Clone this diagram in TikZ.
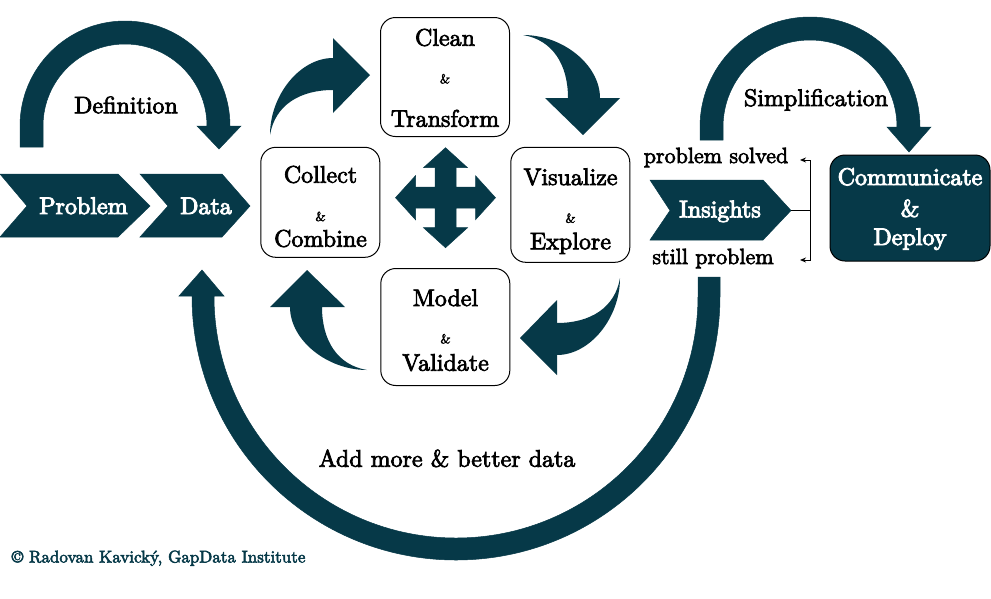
\documentclass[tikz,border=0pt]{standalone}
\usepackage{fontspec}
\setmainfont{lmroman10-regular.otf}[FakeBold=3]
\newfontfamily\whitefont{lmroman10-regular.otf}[FakeBold=4]
\usetikzlibrary{arrows.meta}
\definecolor{dteal}{RGB}{6,57,72}
\tikzset{
  curvarrow/.pic={
    \fill[dteal] (-100,60) .. controls (-100,20) and (-70,-17) .. (-37,-17)
      -- (-37,-37) -- (0,0) -- (-37,38) -- (-37,15)
      .. controls (-70,15) and (-95,30) .. (-100,60) -- cycle;
  }
}
\begin{document}
\begin{tikzpicture}[x=1pt,y=-1pt,
  every node/.style={inner sep=0pt, outer sep=0pt},
  lbl/.style={anchor=base, font=\fontsize{24}{28}\selectfont},
  sml/.style={anchor=base, font=\fontsize{22}{26}\selectfont},
  amp/.style={anchor=base, font=\fontsize{13}{15}\selectfont},
  wlbl/.style={anchor=base, text=white, font=\whitefont\fontsize{24}{28}\selectfont},
  box/.style={draw=black, line width=1pt, rounded corners=15pt, fill=white},
  dbox/.style={draw=black, line width=1pt, rounded corners=15pt, fill=dteal},
  blk/.style={fill=dteal, draw=dteal, line width=0.5pt},
  conn/.style={line width=1pt, {Stealth[length=6pt,width=5pt]}-{Stealth[length=6pt,width=5pt]}}]
\useasboundingbox (0,0) rectangle (991,598);

% Definition arc
\path[blk] (20,147) -- (20,126) arc[start angle=180,end angle=360,radius=105]
  -- (241,126) -- (219,149) -- (197,126) -- (207,126)
  arc[start angle=360,end angle=180,radius=82] -- (43,147) -- cycle;
\node[lbl] (definition) at (126,113.3) {Definition};

% Simplification arc
\path[blk] (700,140) -- (700,127) arc[start angle=180,end angle=360,radius=110]
  -- (931,127) -- (909,152) -- (887,127) -- (897,127)
  arc[start angle=360,end angle=180,radius=87] -- (723,140) -- cycle;
\node[lbl] (simplification) at (816,106) {Simplification};

% Bottom arc
\path[blk] (720,277) -- (720,296) arc[start angle=0,end angle=180,radius=264]
  -- (179,296) -- (202,270) -- (224,296) -- (214,296)
  arc[start angle=180,end angle=0,radius=242] -- (698,277) -- cycle;
\node[lbl] (addmore) at (447,466.7) {Add more \& better data};

% Chevrons
\path[blk] (0,174) -- (118,174) -- (150,206) -- (118,237) -- (0,237) -- (27,206) -- cycle;
\path[blk] (140,174) -- (222,174) -- (250,206) -- (222,237) -- (140,237) -- (168,206) -- cycle;
\path[blk] (650,180) -- (763,180) -- (791,210.5) -- (763,240) -- (650,240) -- (670,210.5) -- cycle;
\node[wlbl] (problem) at (83.5,214) {Problem};
\node[wlbl] (data) at (206,214) {Data};
\node[wlbl] (insights) at (720,217.3) {Insights};

% Process boxes
\node[box, minimum width=129pt, minimum height=119pt] (clean) at (445,77) {};
\node[box, minimum width=119pt, minimum height=110pt] (collect) at (320.3,202.3) {};
\node[box, minimum width=119pt, minimum height=115pt] (visualize) at (570.3,204.8) {};
\node[box, minimum width=129pt, minimum height=117pt] (model) at (445.3,327) {};

\node[lbl] (cleanA) at (445,45.7) {Clean};
\node[amp] (cleanB) at (445,83.3) {\&};
\node[lbl] (cleanC) at (445,126.7) {Transform};

\node[lbl] (collectA) at (320.5,182.7) {Collect};
\node[amp] (collectB) at (320.5,221) {\&};
\node[lbl] (collectC) at (320.5,246.7) {Combine};

\node[lbl] (visA) at (570.5,185) {Visualize};
\node[amp] (visB) at (570.5,222.7) {\&};
\node[lbl] (visC) at (570.5,249.3) {Explore};

\node[lbl] (modelA) at (445.5,306) {Model};
\node[amp] (modelB) at (445.5,343.3) {\&};
\node[lbl] (modelC) at (445.5,370.7) {Validate};

% Four-way arrow
\path[blk, shift={(445.5,197.7)}] (0,-50) -- (22,-30) -- (10.5,-30) -- (10.5,-10.5) -- (30,-10.5) -- (30,-22)
  -- (50,0) -- (30,22) -- (30,10.5) -- (10.5,10.5) -- (10.5,30) -- (22,30)
  -- (0,50) -- (-22,30) -- (-10.5,30) -- (-10.5,10.5) -- (-30,10.5) -- (-30,22)
  -- (-50,0) -- (-30,-22) -- (-30,-10.5) -- (-10.5,-10.5) -- (-10.5,-30) -- (-22,-30) -- cycle;

% Curved cycle arrows
\pic at (370,75) {curvarrow};
\pic[rotate=-90] at (583,135) {curvarrow};
\pic[rotate=180] at (520,338) {curvarrow};
\pic[rotate=90] at (307,270) {curvarrow};

% Communicate box
\node[dbox, minimum width=160pt, minimum height=106pt] (communicate) at (910,208) {};
\node[wlbl] (commA) at (910,185) {Communicate};
\node[wlbl] (commB) at (910,216.7) {\&};
\node[wlbl] (commC) at (910,245) {Deploy};

% Outcome labels and bracket
\node[sml] (solved) at (716,163) {problem solved};
\node[sml] (still) at (713,264) {still problem};
\coordinate (instip) at (791,210.5);
\coordinate (jn) at (810,210.5);
\coordinate (jt) at (810,160);
\coordinate (jb) at (810,260);
\coordinate (solvedend) at (800,160);
\coordinate (stillend) at (800,260);
\draw[line width=1pt] (instip) -- (jn);
\draw[conn] (solvedend) -- (jt) -- (jb) -- (stillend);

% Copyright
\node[anchor=base west, text=dteal, font=\fontsize{17}{19}\selectfont] (copyright) at (11.7,562.5) {\textcopyright{} Radovan Kavický, GapData Institute};
\end{tikzpicture}
\end{document}
